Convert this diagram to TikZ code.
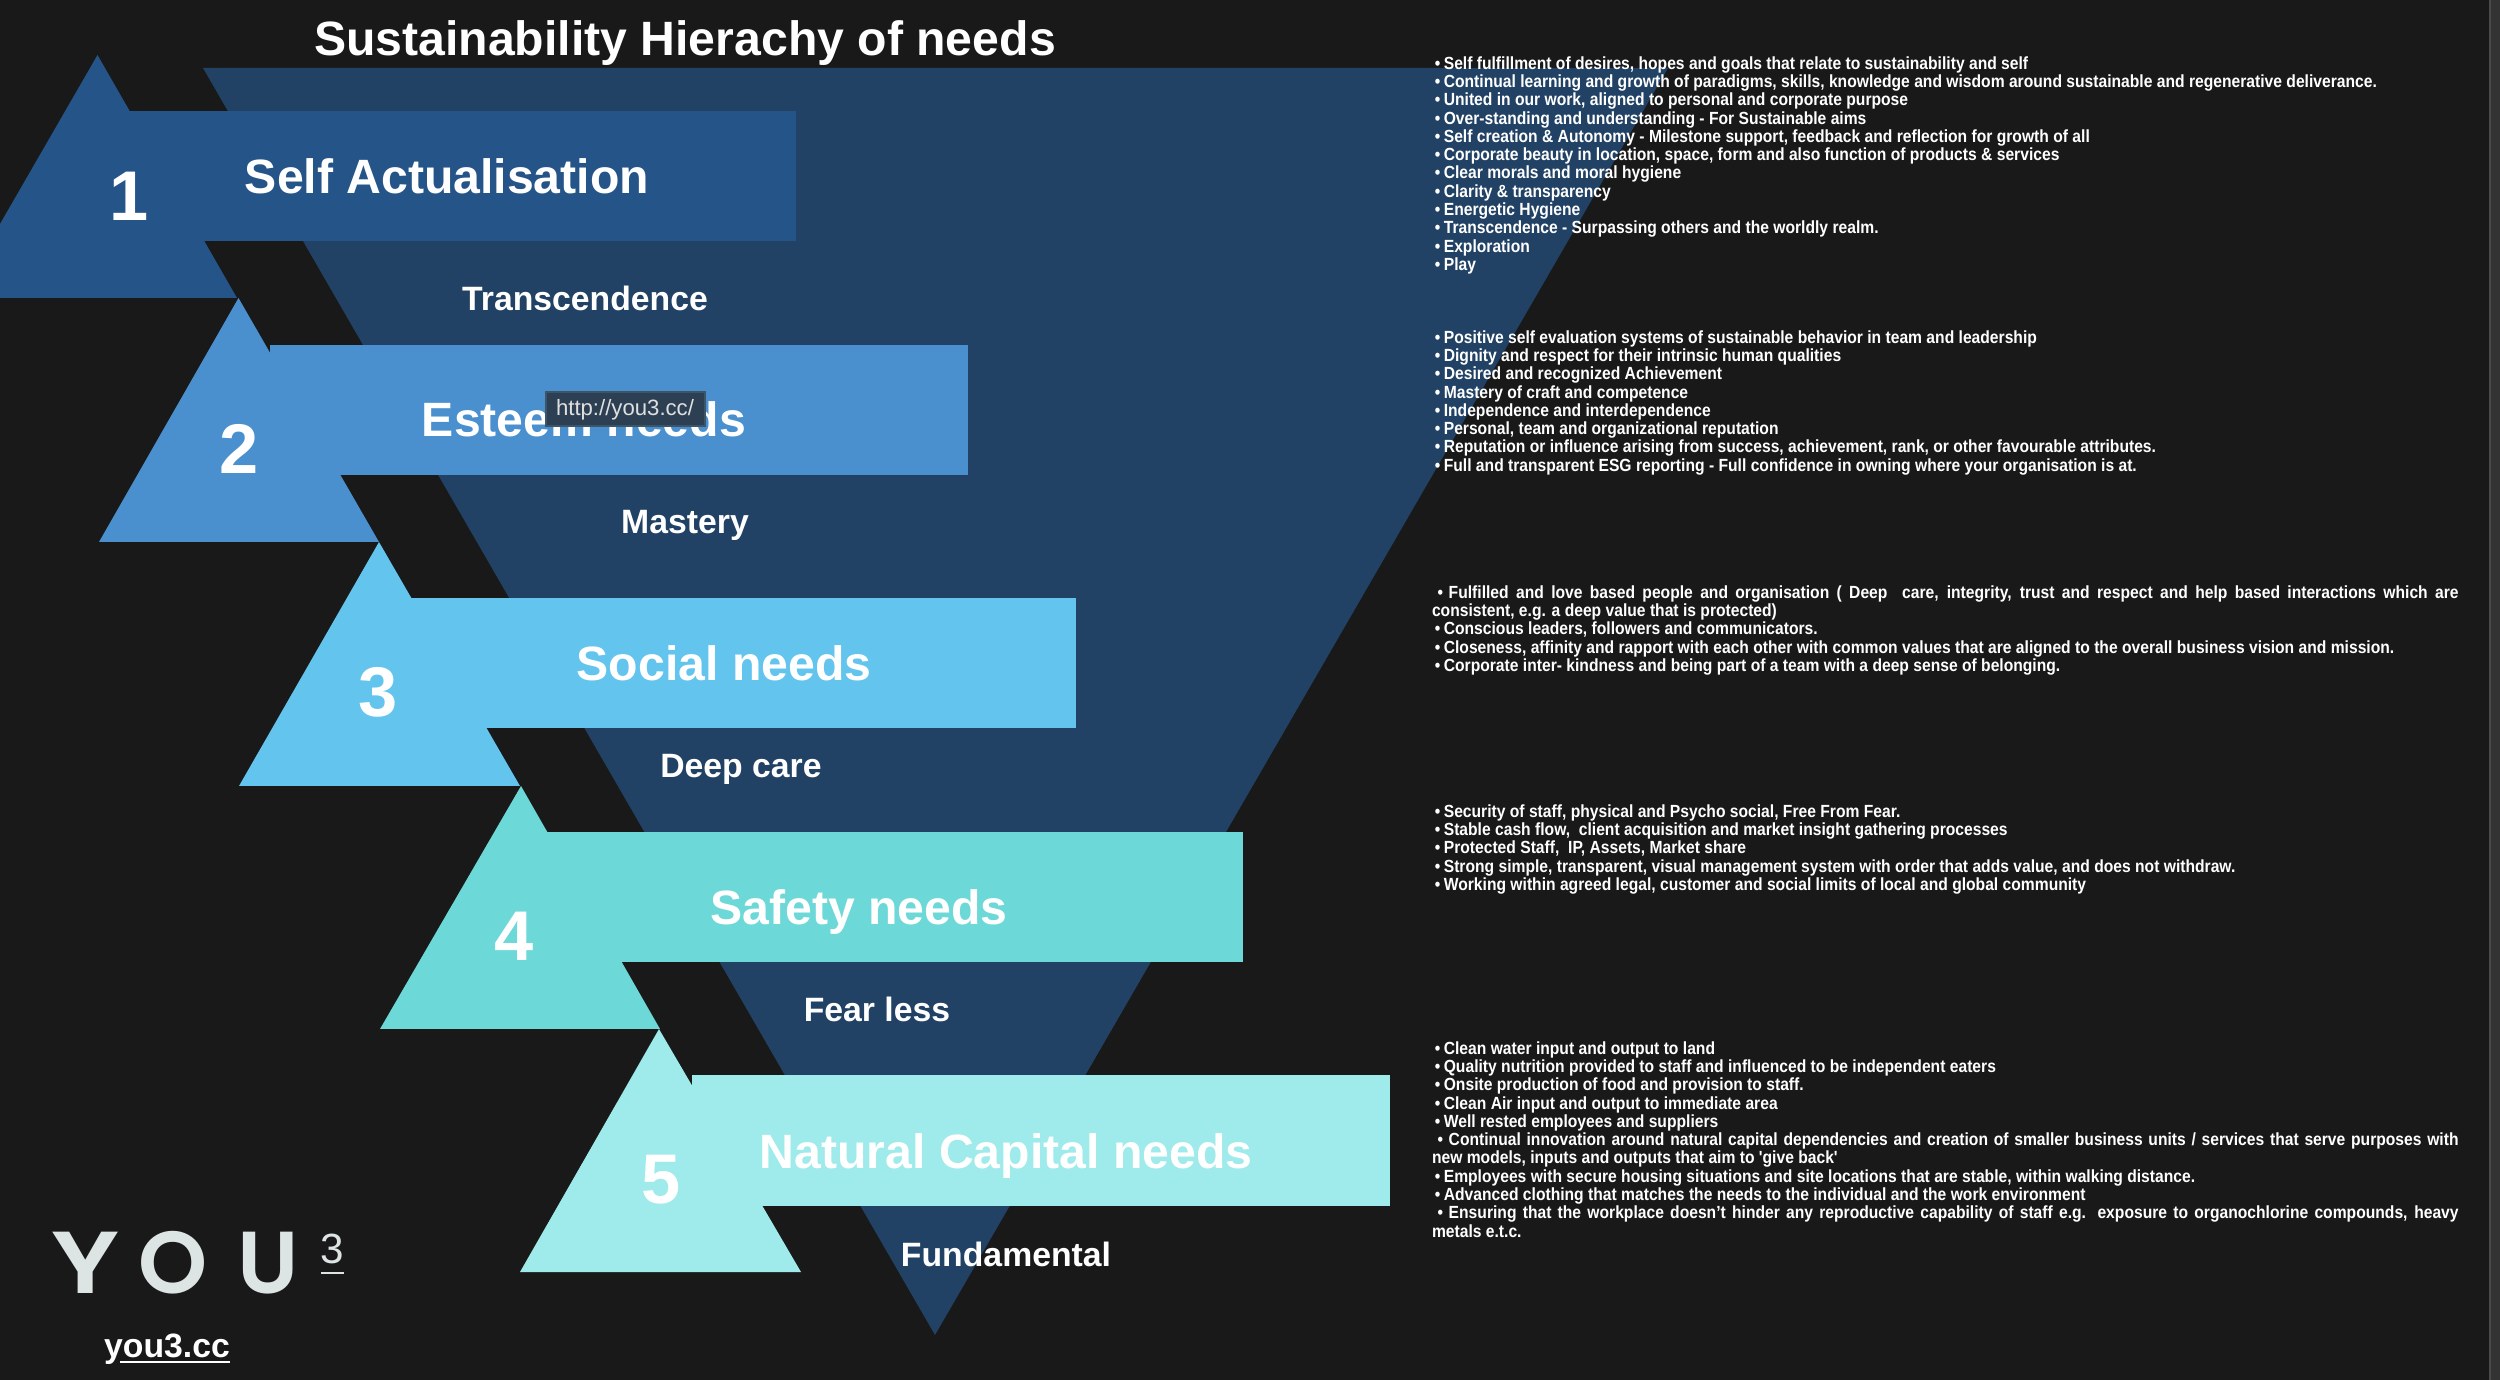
\documentclass[tikz,border=0pt]{standalone}
\usepackage{fontspec}
\setmainfont{Liberation Sans}
\newfontfamily\hd[BoldFont={Liberation Sans Bold}]{Liberation Sans}
\newfontfamily\bd[FakeStretch=0.89,BoldFont={Liberation Sans Bold}]{Liberation Sans}
\newfontfamily\logofont{Poppins SemiBold}
\lineskiplimit=-5pt
\hyphenpenalty=10000
\definecolor{bgc}{HTML}{191919}
\definecolor{bigc}{HTML}{214265}
\definecolor{ca}{HTML}{255488}
\definecolor{cb}{HTML}{4A90CF}
\definecolor{cc}{HTML}{63C5EE}
\definecolor{cd}{HTML}{6DD8D8}
\definecolor{ce}{HTML}{9FEAEA}
\definecolor{logoc}{HTML}{DDE4E4}
\definecolor{tipc}{HTML}{2D4053}
\definecolor{tipb}{HTML}{3D5568}
\definecolor{scra}{HTML}{4A4A4A}
\definecolor{scrb}{HTML}{333333}
\tikzset{
  x=0.01cm,y=-0.01cm,
  txt/.style={text=white,inner sep=0pt,outer sep=0pt},
  head/.style={txt,anchor=base,font=\hd\bfseries\fontsize{13.7pt}{15pt}\selectfont},
  sub/.style={txt,anchor=base,font=\hd\bfseries\fontsize{9.6pt}{11pt}\selectfont},
  num/.style={txt,anchor=center,font=\hd\bfseries\fontsize{20pt}{22pt}\selectfont},
  listblock/.style={txt,anchor=north west,text width=10.26cm,align=justify,
    font=\bd\bfseries\fontsize{5pt}{5.2pt}\selectfont},
  logo/.style={text=logoc,inner sep=0pt,anchor=base,font=\logofont\fontsize{25pt}{27pt}\selectfont}
}
\newcommand{\bu}{\hspace*{0.8pt}\textbullet\hspace{1pt}}
\newcommand{\bv}{\hspace*{1.6pt}\textbullet\hspace{1.6pt}}
\begin{document}
\begin{tikzpicture}
\useasboundingbox (0,0) rectangle (2500,1380);
\fill[bgc] (0,0) rectangle (2500,1380);
\fill[bigc] (203,68) -- (1668,68) -- (935,1335) -- cycle;
% arrows
\fill[ca] (97.5,55) -- (237,298) -- (0,298) -- (0,224) -- cycle;
\fill[ca] (129,111) rectangle (796,241);
\fill[cb] (238.5,298) -- (379,542) -- (99,542) -- cycle;
\fill[cb] (270,345) rectangle (968,475);
\fill[cc] (379,542) -- (520,786) -- (239,786) -- cycle;
\fill[cc] (411,598) rectangle (1076,728);
\fill[cd] (521,786) -- (660,1029) -- (380,1029) -- cycle;
\fill[cd] (547,832) rectangle (1243,962);
\fill[ce] (659,1029) -- (801,1272) -- (520,1272) -- cycle;
\fill[ce] (692,1075) rectangle (1390,1206);
% title
\node[head] (title) at (685,56) {Sustainability Hierachy of needs};
% headings
\node[head] (h1) at (447,194) {Self Actualisation};
\node[head] (h2) at (584,437) {Esteem needs};
\node[head] (h3) at (724,681) {Social needs};
\node[head] (h4) at (859,925) {Safety needs};
\node[head] (h5) at (1006,1169) {Natural Capital needs};
% numbers
\node[num] (n1) at (129,196) {1};
\node[num] (n2) at (239,449) {2};
\node[num] (n3) at (378,692) {3};
\node[num] (n4) at (514,936) {4};
\node[num] (n5) at (661,1180) {5};
% sublabels
\node[sub] (s1) at (585,311) {Transcendence};
\node[sub] (s2) at (685,534) {Mastery};
\node[sub] (s3) at (741,778) {Deep care};
\node[sub] (s4) at (877,1022) {Fear less};
\node[sub] (s5) at (1006,1266) {Fundamental};
% tooltip
\filldraw[fill=tipc,draw=tipb,line width=0.4pt] (546,392) rectangle (705,426);
\node[anchor=base,text=white!88!black,inner sep=0pt,font=\fontsize{6.3pt}{7pt}\selectfont] (tip) at (625,416) {http://you3.cc/};
% lists
\node[listblock] (l1) at (1432,56.5) {%
\bu Self fulfillment of desires, hopes and goals that relate to sustainability and self\par
\bu Continual learning and growth of paradigms, skills, knowledge and wisdom around sustainable and regenerative deliverance.\par
\bu United in our work, aligned to personal and corporate purpose\par
\bu Over-standing and understanding - For Sustainable aims\par
\bu Self creation \& Autonomy - Milestone support, feedback and reflection for growth of all\par
\bu Corporate beauty in location, space, form and also function of products \& services\par
\bu Clear morals and moral hygiene\par
\bu Clarity \& transparency\par
\bu Energetic Hygiene\par
\bu Transcendence - Surpassing others and the worldly realm.\par
\bu Exploration\par
\bu Play};
\node[listblock] (l2) at (1432,330.5) {%
\bu Positive self evaluation systems of sustainable behavior in team and leadership\par
\bu Dignity and respect for their intrinsic human qualities\par
\bu Desired and recognized Achievement\par
\bu Mastery of craft and competence\par
\bu Independence and interdependence\par
\bu Personal, team and organizational reputation\par
\bu Reputation or influence arising from success, achievement, rank, or other favourable attributes.\par
\bu Full and transparent ESG reporting - Full confidence in owning where your organisation is at.};
\node[listblock] (l3) at (1432,585.5) {%
\bv Fulfilled and love based people and organisation ( Deep \ care, integrity, trust and respect and help based interactions which are\linebreak consistent, e.g. a deep value that is protected)\par
\bu Conscious leaders, followers and communicators.\par
\bu Closeness, affinity and rapport with each other with common values that are aligned to the overall business vision and mission.\par
\bu Corporate inter- kindness and being part of a team with a deep sense of belonging.};
\node[listblock] (l4) at (1432,804.5) {%
\bu Security of staff, physical and Psycho social, Free From Fear.\par
\bu Stable cash flow, \ client acquisition and market insight gathering processes\par
\bu Protected Staff, \ IP, Assets, Market share\par
\bu Strong simple, transparent, visual management system with order that adds value, and does not withdraw.\par
\bu Working within agreed legal, customer and social limits of local and global community};
\node[listblock] (l5) at (1432,1041.5) {%
\bu Clean water input and output to land\par
\bu Quality nutrition provided to staff and influenced to be independent eaters\par
\bu Onsite production of food and provision to staff.\par
\bu Clean Air input and output to immediate area\par
\bu Well rested employees and suppliers\par
\bv Continual innovation around natural capital dependencies and creation of smaller business units / services that serve purposes with\linebreak new models, inputs and outputs that aim to 'give back'\par
\bu Employees with secure housing situations and site locations that are stable, within walking distance.\par
\bu Advanced clothing that matches the needs to the individual and the work environment\par
\bv Ensuring that the workplace doesn’t hinder any reproductive capability of staff e.g. exposure to organochlorine compounds, heavy\linebreak metals e.t.c.};
% logo
\node[logo] (ly) at (86,1294) {\scalebox{1.22}[1]{Y}};
\node[logo] (lo) at (173,1294) {O};
\node[logo] (lu) at (268,1294) {U};
\node[text=logoc,inner sep=0pt,anchor=base,font=\hd\fontsize{12pt}{13pt}\selectfont] (lsup) at (332,1263) {3};
\coordinate (lua) at (321,1273);
\coordinate (lub) at (344,1273);
\draw[logoc,line width=0.7pt] (lua) -- (lub);
\node[txt,anchor=base,font=\hd\bfseries\fontsize{9.6pt}{11pt}\selectfont] (web) at (167,1357) {you3.cc};
\coordinate (wa) at (120,1362);
\coordinate (wb) at (230,1362);
\draw[white,line width=0.7pt] (wa) -- (wb);
% window edge
\fill[scrb] (2489,0) rectangle (2500,1380);
\fill[scra] (2489,0) rectangle (2491,1380);
\end{tikzpicture}
\end{document}
